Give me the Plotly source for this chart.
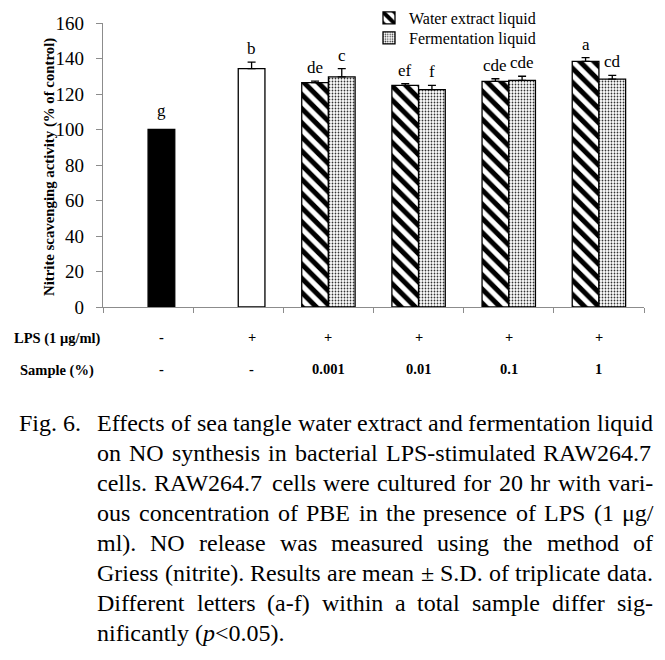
import plotly.graph_objects as go

# ---------------- data ----------------
categories = ["Control", "LPS", "0.001", "0.01", "0.1", "1"]
lps_row = ["-", "+", "+", "+", "+", "+"]
sample_row = ["-", "-", "0.001", "0.01", "0.1", "1"]

control_value = [100.0]
control_sd = [0.0]
lps_value = [134.3]
lps_sd = [3.7]

water_value = [126.4, 124.9, 127.1, 138.4]
water_sd = [0.9, 0.9, 1.5, 2.1]
ferm_value = [129.6, 122.5, 127.7, 128.4]
ferm_sd = [4.7, 2.4, 2.3, 2.1]

control_letter = ["g"]
lps_letter = ["b"]
water_letters = ["de", "ef", "cde", "a"]
ferm_letters = ["c", "f", "cde", "cd"]

y_ticks = [0, 20, 40, 60, 80, 100, 120, 140, 160]

caption_prefix = "Fig. 6."
caption_lines = [
    "Effects of sea tangle water extract and fermentation liquid",
    "on NO synthesis in bacterial LPS-stimulated RAW264.7",
    "cells. RAW264.7 cells were cultured for 20 hr with vari-",
    "ous concentration of PBE in the presence of LPS (1 \u03bcg/",
    "ml). NO release was measured using the method of",
    "Griess (nitrite). Results are mean \u00b1 S.D. of triplicate data.",
    "Different letters (a-f) within a total sample differ sig-",
]
caption_last = "nificantly (<i>p</i><0.05)."

# ---------------- layout geometry ----------------
# the page body has an 8px margin, so the figure is offset by 8px in the window
OFF = 8
W, H = 649, 644
ML, MR, MT, MB = 95, 13, 15, 345
PW = W - ML - MR
PH = H - MT - MB
BAR_W = 0.296
CAT_PX = PW / len(categories)
SERIF = "Liberation Serif, Times New Roman, serif"

# Times-compatible advance widths (1/1000 em) used to justify the caption
TW = {" ": 250, "!": 333, "%": 833, "(": 333, ")": 333, "+": 564, ",": 250,
      "-": 333, ".": 250, "/": 278, ":": 278, ";": 278, "<": 564, "\u00b1": 564,
      "\u03bc": 500,
      "A": 722, "B": 667, "C": 667, "D": 722, "E": 611, "F": 556, "G": 722,
      "H": 722, "I": 333, "J": 389, "K": 722, "L": 611, "M": 889, "N": 722,
      "O": 722, "P": 556, "Q": 722, "R": 667, "S": 556, "T": 611, "U": 722,
      "V": 722, "W": 944, "X": 722, "Y": 722, "Z": 611,
      "a": 444, "b": 500, "c": 444, "d": 500, "e": 444, "f": 333, "g": 500,
      "h": 500, "i": 278, "j": 278, "k": 500, "l": 278, "m": 778, "n": 500,
      "o": 500, "p": 500, "q": 500, "r": 333, "s": 389, "t": 278, "u": 500,
      "v": 500, "w": 722, "x": 500, "y": 500, "z": 444}


def text_w(s, size):
    return sum(TW.get(ch, 500) for ch in s) * size / 1000.0


def px_x(p):
    """window pixel x -> paper coordinate"""
    return (p - OFF - ML) / PW


def px_y(p):
    """window pixel y -> paper coordinate"""
    return (H - MB - (p - OFF)) / PH


fig = go.Figure()

line_style = dict(color="black", width=1.3)
err_style = dict(color="black", thickness=1.3, width=4)

fig.add_trace(go.Bar(
    x=categories[:1], y=control_value, width=BAR_W, offset=0,
    marker=dict(color="black", line=line_style), showlegend=False,
))
fig.add_trace(go.Bar(
    x=categories[1:2], y=lps_value, width=BAR_W, offset=0,
    marker=dict(color="white", line=line_style), showlegend=False,
    error_y=dict(type="data", array=lps_sd, arrayminus=[0] * len(lps_sd),
                 symmetric=False, **err_style),
))
fig.add_trace(go.Bar(
    x=categories[2:], y=water_value, width=BAR_W, offset=-BAR_W,
    name="Water extract liquid", legend="legend",
    marker=dict(color="white", line=line_style,
                pattern=dict(shape="\\", size=10, solidity=0.5, fgopacity=1,
                             fgcolor="black", bgcolor="white")),
    error_y=dict(type="data", array=water_sd, arrayminus=[0] * len(water_sd),
                 symmetric=False, **err_style),
))
fig.add_trace(go.Bar(
    x=categories[2:], y=ferm_value, width=BAR_W, offset=0,
    name="Fermentation liquid", legend="legend2",
    marker=dict(color="white", line=line_style,
                pattern=dict(shape=".", size=3, solidity=0.28, fgopacity=1,
                             fgcolor="#333333", bgcolor="white")),
    error_y=dict(type="data", array=ferm_sd, arrayminus=[0] * len(ferm_sd),
                 symmetric=False, **err_style),
))

annotations = []
half_shift = BAR_W / 2 * CAT_PX

# significance letters
letter_font = dict(family=SERIF, size=17, color="black")


def add_letter(idx, top, txt, shift, extra=0):
    annotations.append(dict(x=idx, y=top, xref="x", yref="y", text=txt,
                            showarrow=False, xshift=shift, yshift=2 + extra,
                            xanchor="center", yanchor="bottom", font=letter_font))


add_letter(0, control_value[0] + control_sd[0], control_letter[0], half_shift, 6)
add_letter(1, lps_value[0] + lps_sd[0], lps_letter[0], half_shift)
for i in range(len(water_value)):
    add_letter(i + 2, water_value[i] + water_sd[i], water_letters[i], -half_shift)
    add_letter(i + 2, ferm_value[i] + ferm_sd[i], ferm_letters[i], half_shift)

# condition rows
row_font = dict(family=SERIF, size=14.5, color="black")
for i in range(len(categories)):
    sh = half_shift if i < 2 else 0
    annotations.append(dict(x=i, y=px_y(337), xref="x", yref="paper",
                            text="<b>%s</b>" % lps_row[i], showarrow=False,
                            xanchor="center", yanchor="middle",
                            xshift=sh, font=row_font))
    annotations.append(dict(x=i, y=px_y(369), xref="x", yref="paper",
                            text="<b>%s</b>" % sample_row[i], showarrow=False,
                            xanchor="center", yanchor="middle",
                            xshift=sh, font=row_font))
annotations.append(dict(x=px_x(57), y=px_y(338), xref="paper", yref="paper",
                        text="<b>LPS (1 \u03bcg/ml)</b>", showarrow=False,
                        xanchor="center", yanchor="middle", font=row_font))
annotations.append(dict(x=px_x(57), y=px_y(370), xref="paper", yref="paper",
                        text="<b>Sample (%)</b>", showarrow=False,
                        xanchor="center", yanchor="middle", font=row_font))

# y axis title
annotations.append(dict(x=px_x(49), y=px_y(167), xref="paper", yref="paper",
                        text="<b>Nitrite scavenging activity (% of control)</b>",
                        textangle=-90, showarrow=False,
                        xanchor="center", yanchor="middle",
                        font=dict(family=SERIF, size=14.8, color="black")))

# caption (justified word by word)
CAP_SIZE = 24
cap_font = dict(family=SERIF, size=CAP_SIZE, color="black")
LEFT0, LEFT, RIGHT = 18, 96, 652


def cap_word(x, y, txt):
    annotations.append(dict(x=px_x(x), y=px_y(y), xref="paper", yref="paper",
                            text=txt, showarrow=False, xanchor="left",
                            yanchor="middle", borderpad=0, font=cap_font))


cap_word(LEFT0, 423, caption_prefix)
for k, line in enumerate(caption_lines):
    y = 423 + 30 * k
    words = line.split(" ")
    widths = [text_w(w, CAP_SIZE) for w in words]
    gap = (RIGHT - LEFT - sum(widths)) / (len(words) - 1)
    x = LEFT
    for w, wd in zip(words, widths):
        cap_word(x, y, w)
        x += wd + gap
cap_word(LEFT, 423 + 30 * len(caption_lines), caption_last)

legend_font = dict(family=SERIF, size=16, color="black")
fig.update_layout(
    width=W, height=H,
    margin=dict(l=ML, r=MR, t=MT, b=MB, autoexpand=False),
    paper_bgcolor="white", plot_bgcolor="white",
    barmode="overlay",
    showlegend=True,
    legend=dict(x=px_x(369), y=px_y(1), xanchor="left", yanchor="top",
                bgcolor="rgba(0,0,0,0)", font=legend_font, itemwidth=30),
    legend2=dict(x=px_x(369), y=px_y(21), xanchor="left", yanchor="top",
                 bgcolor="rgba(0,0,0,0)", font=legend_font, itemwidth=30),
    annotations=annotations,
    xaxis=dict(type="category", categoryorder="array", categoryarray=categories,
               range=[-0.5, len(categories) - 0.5], showticklabels=False,
               tickson="boundaries", ticks="outside", ticklen=5,
               tickcolor="#8c8c8c", showline=True, linecolor="#8c8c8c",
               linewidth=1.2, showgrid=False, zeroline=False),
    yaxis=dict(range=[0, 160], tickvals=y_ticks, ticks="outside", ticklen=6,
               tickcolor="#8c8c8c", showline=True, linecolor="#8c8c8c",
               linewidth=1.2, showgrid=False, zeroline=False,
               ticklabelstandoff=8,
               tickfont=dict(family=SERIF, size=19, color="black")),
    font=dict(family=SERIF),
)

fig.write_html("out.html")
